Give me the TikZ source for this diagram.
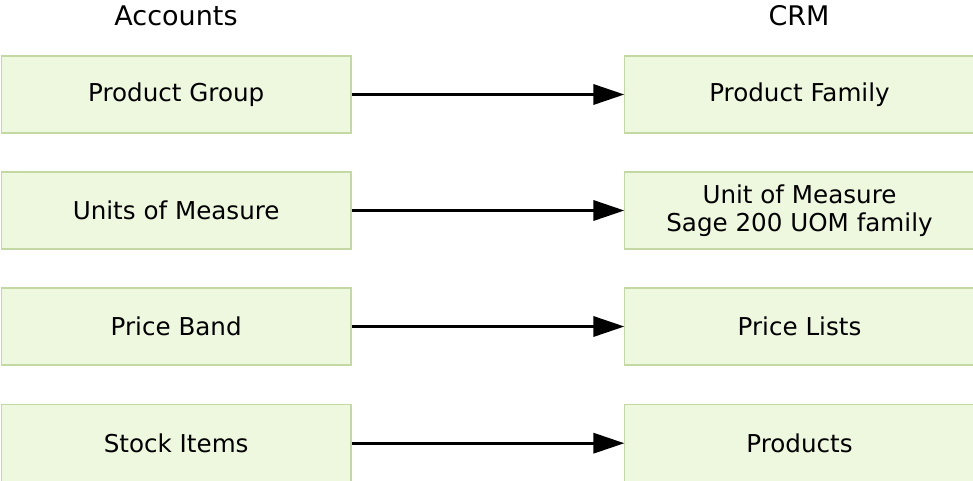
\documentclass[tikz,border=0pt]{standalone}
\usepackage{fontspec}
\setmainfont{DejaVu Sans}
\usetikzlibrary{arrows.meta}
\definecolor{boxfill}{HTML}{EEF8DF}
\definecolor{boxline}{HTML}{C4D8A4}
\tikzset{
  mapbox/.style={draw=boxline, line width=1.2pt, fill=boxfill, minimum width=349.5pt, minimum height=77pt, inner sep=0pt, font=\fontsize{24.6}{28.5}\selectfont, align=center, anchor=center},
  rbox/.style={mapbox, minimum width=350pt},
  head/.style={font=\fontsize{27}{30}\selectfont, anchor=base},
  maparrow/.style={line width=3.4pt, -{Triangle[length=31pt, width=20pt]}, shorten >=-0.5pt}
}
\begin{document}
\begin{tikzpicture}[x=1pt, y=-1pt]
  \useasboundingbox (0,0) rectangle (973,480);
  % column headings
  \node[head] (hacc) at (176,25.5) {Accounts};
  \node[head] (hcrm) at (799,25.5) {CRM};
  % accounts entities (left) and their CRM counterparts (right)
  \node[mapbox] (pg)  at (176.2,94.5)  {Product Group};
  \node[mapbox] (uom) at (176.2,210.5) {Units of Measure};
  \node[mapbox] (pb)  at (176.2,326.5) {Price Band};
  \node[mapbox] (si)  at (176.2,443.2) {Stock Items};
  \node[rbox] (pf)  at (799.5,94.5)  {Product Family};
  \node[rbox] (cu)  at (799.5,210.5) {Unit of Measure\\Sage 200 UOM family};
  \node[rbox] (pl)  at (799.5,326.5) {Price Lists};
  \node[rbox] (pr)  at (799.5,443.2) {Products};
  % mappings
  \draw[maparrow] (pg)  -- (pf);
  \draw[maparrow] (uom) -- (cu);
  \draw[maparrow] (pb)  -- (pl);
  \draw[maparrow] (si)  -- (pr);
\end{tikzpicture}
\end{document}
